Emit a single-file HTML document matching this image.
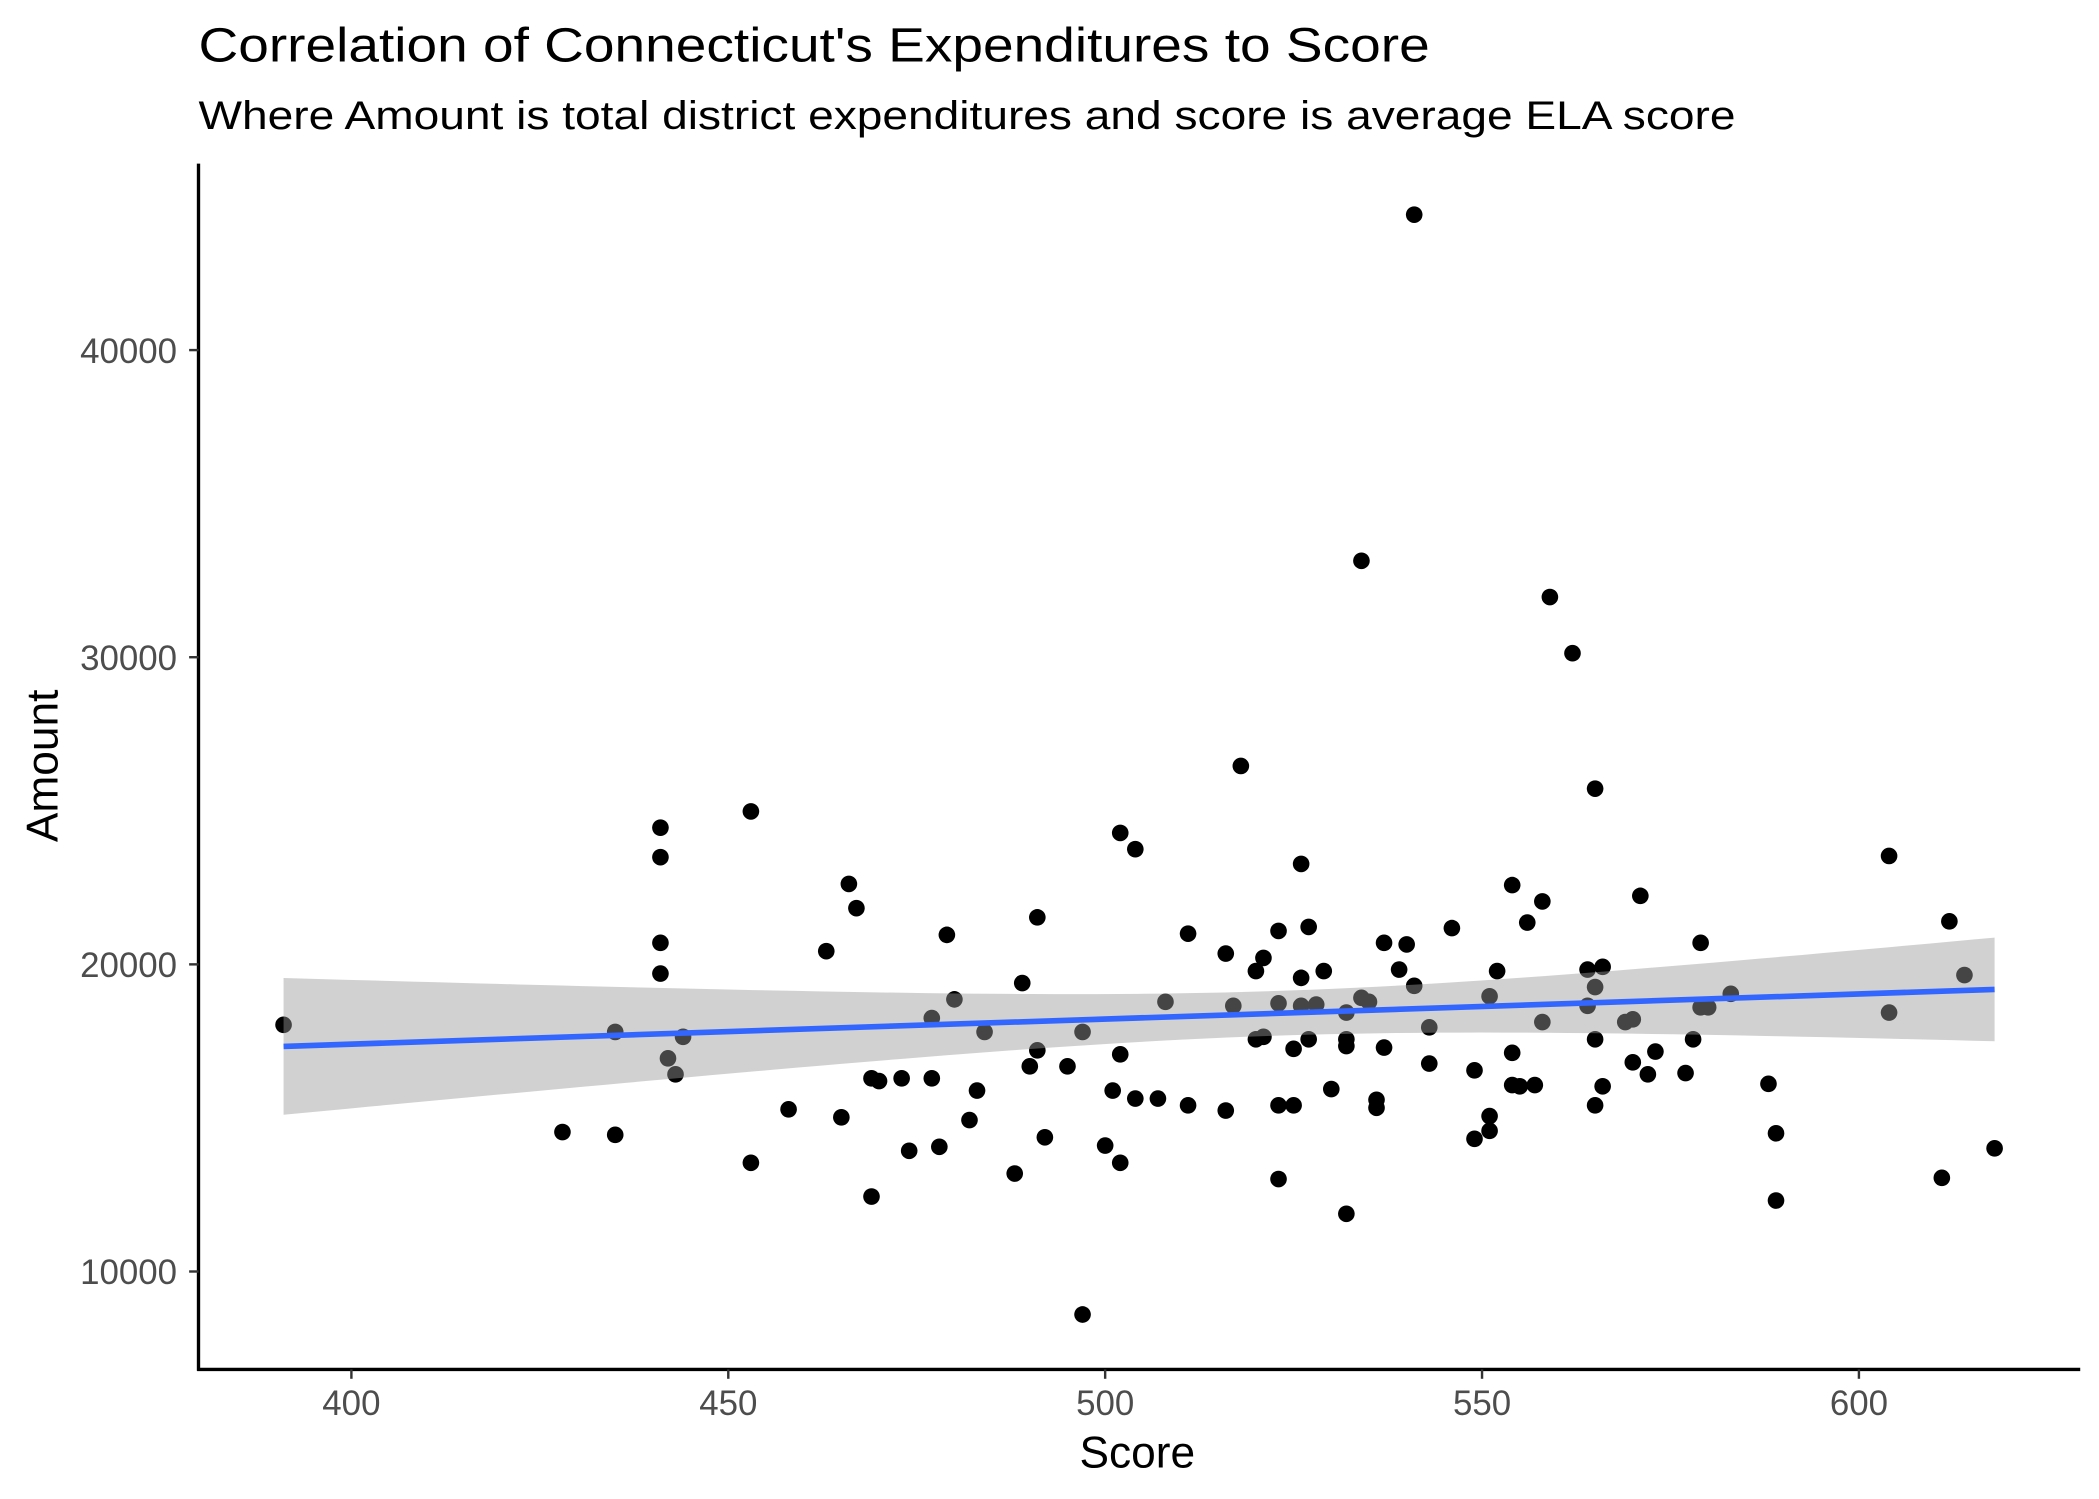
<!DOCTYPE html>
<html><head><meta charset="utf-8"><style>
html,body{margin:0;padding:0;background:#fff;}
svg{display:block;}
text{font-family:"Liberation Sans",Arial,sans-serif;}
</style></head><body>
<svg id="chart" width="2099" height="1499" viewBox="0 0 1565 1117.6" xmlns="http://www.w3.org/2000/svg">
<text x="148" y="46" font-size="36" fill="#000" textLength="918" lengthAdjust="spacingAndGlyphs">Correlation of Connecticut's Expenditures to Score</text>
<text x="148" y="96" font-size="30" fill="#000" textLength="1146" lengthAdjust="spacingAndGlyphs">Where Amount is total district expenditures and score is average ELA score</text>
<g id="plot"></g>
<text x="848" y="1094" font-size="33" text-anchor="middle" fill="#000">Score</text>
<text transform="translate(43,571) rotate(-90)" font-size="33" text-anchor="middle" fill="#000">Amount</text>
</svg>
<script>
const scores=[391,428,435,435,441,441,441,441,442,443,444,453,453,458,463,465,466,467,469,469,470,473,474,477,477,478,479,480,482,483,484,488,489,490,491,491,492,495,497,497,500,501,502,502,502,504,504,507,508,511,511,516,516,517,518,520,520,521,521,523,523,523,523,525,525,526,526,526,527,527,528,529,530,532,532,532,532,534,534,535,536,536,537,537,539,540,541,541,543,543,546,549,549,551,551,551,552,554,554,554,555,556,557,558,558,559,562,564,564,565,565,565,565,566,566,569,570,570,571,572,573,577,578,579,579,580,583,588,589,589,604,604,611,612,614,618];
const amounts=[18030,14540,17800,14450,24450,23490,20700,19700,16940,16420,17640,24980,13540,15280,20430,15020,22620,21830,16290,12440,16200,16290,13930,18250,16290,14060,20960,18860,14930,15890,17800,13190,19390,16680,21530,17200,14370,16680,8600,17800,14100,15890,24280,17070,13540,23750,15630,15630,18780,15410,21000,20350,15240,18650,26460,19780,17560,20210,17640,21090,18730,15410,13010,17250,15410,23270,19560,18650,21220,17560,18690,19780,15940,18430,17560,17340,11880,33140,18910,18780,15590,15330,20700,17290,19830,20650,44410,19300,17950,16770,21180,16550,14320,18960,15060,14580,19780,22580,17120,16070,16030,21360,16070,18120,22050,31960,30130,19830,18650,25720,19260,17560,15410,19920,16030,18120,18210,16810,22230,16420,17160,16460,17560,20700,18600,18600,19040,16110,14500,12310,23530,18430,13050,21400,19650,14010];
const xTicks=[400,450,500,550,600];
const yTicks=[10000,20000,30000,40000];

const NS='http://www.w3.org/2000/svg';
const plot=document.getElementById('plot');
const X=v=>262+(v-400)*5.62;
const Y=v=>261+(40000-v)*0.0229;
function mk(t,a){const e=document.createElementNS(NS,t);for(const k in a)e.setAttribute(k,a[k]);plot.appendChild(e);return e;}

const n=scores.length;
const mx=scores.reduce((a,b)=>a+b,0)/n, my=amounts.reduce((a,b)=>a+b,0)/n;
let sxx=0,sxy=0;for(let i=0;i<n;i++){sxx+=(scores[i]-mx)**2;sxy+=(scores[i]-mx)*(amounts[i]-my);}
const b=sxy/sxx,a=my-b*mx;
let sse=0;for(let i=0;i<n;i++)sse+=(amounts[i]-a-b*scores[i])**2;
const s=Math.sqrt(sse/(n-2)),t=1.977;
const x0=Math.min(...scores),x1=Math.max(...scores);
let up=[],lo=[];
for(let k=0;k<=80;k++){const x=x0+(x1-x0)*k/80;const f=a+b*x;const se=t*s*Math.sqrt(1/n+(x-mx)**2/sxx);up.push(X(x)+','+Y(f+se));lo.unshift(X(x)+','+Y(f-se));}

for(let i=0;i<n;i++){
  const c=mk('circle',{cx:X(scores[i]),cy:Y(amounts[i]),r:6.2,fill:'#000'});
  
  
}
const rib=mk('polygon',{points:up.concat(lo).join(' '),fill:'#999999','fill-opacity':0.45});


const ln=mk('line',{x1:X(x0),y1:Y(a+b*x0),x2:X(x1),y2:Y(a+b*x1),stroke:'#3366FF','stroke-width':4.2});



const ya=mk('line',{x1:148,y1:122,x2:148,y2:1022,stroke:'#000','stroke-width':2.5});


const xa=mk('line',{x1:147,y1:1021,x2:1551,y2:1021,stroke:'#000','stroke-width':2.5});


xTicks.forEach(v=>{
  const tk=mk('line',{x1:X(v),y1:1021,x2:X(v),y2:1028,stroke:'#333','stroke-width':1.8});
  
  
  const tx=mk('text',{x:X(v),y:1055,'font-size':26,'text-anchor':'middle',fill:'#4d4d4d'});
  tx.textContent=v;
  
  
});
yTicks.forEach(v=>{
  const tk=mk('line',{x1:141,y1:Y(v),x2:148,y2:Y(v),stroke:'#333','stroke-width':1.8});
  
  
  const tx=mk('text',{x:132,y:Y(v)+9.5,'font-size':26,'text-anchor':'end',fill:'#4d4d4d'});
  tx.textContent=v;
  
  
});
</script>
</body></html>
